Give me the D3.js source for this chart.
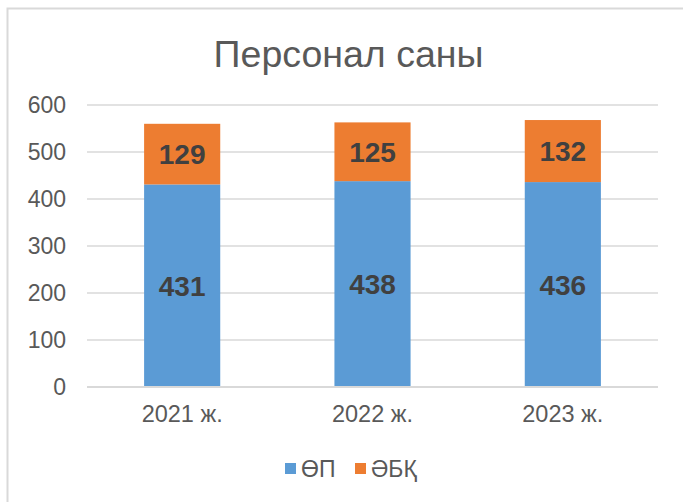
<!DOCTYPE html>
<html><head><meta charset="utf-8">
<script src="https://cdn.jsdelivr.net/npm/d3@7"></script>
<style>body{margin:0;background:#fff}svg{display:block}</style>
</head><body>
<svg id="c" width="683" height="502"></svg>
<script>
const title = "Персонал саны";
const categories = ["2021 ж.", "2022 ж.", "2023 ж."];
const seriesNames = ["ӨП", "ӘБҚ"];
const opValues = [431, 438, 436];
const abkValues = [129, 125, 132];
const yTicks = [0, 100, 200, 300, 400, 500, 600];
const colors = ["#5B9BD5", "#ED7D31"];

const svg = d3.select("#c");
const font = "'Liberation Sans', Arial, sans-serif";

// outer chart border
svg.append("rect").attr("x", 7.5).attr("y", 8.5).attr("width", 720).attr("height", 520)
  .attr("fill", "#fff").attr("stroke", "#D9D9D9").attr("stroke-width", 2);

const x = d3.scaleBand().domain(categories).range([87, 658]).paddingInner(0.6).paddingOuter(0.3);
const y = d3.scaleLinear().domain([0, 600]).range([387, 105]);

// title
svg.append("text").attr("x", 348.5).attr("y", 67).attr("text-anchor", "middle")
  .attr("font-family", font).attr("font-size", 37.5).attr("fill", "#595959").text(title);

// gridlines
svg.append("g").selectAll("line").data(yTicks).join("line")
  .attr("x1", 87).attr("x2", 658).attr("y1", d => y(d)).attr("y2", d => y(d))
  .attr("stroke", "#D9D9D9").attr("stroke-width", 1.5);

// y axis labels
const yAxis = svg.append("g").attr("transform", "translate(87,0)")
  .call(d3.axisLeft(y).tickValues(yTicks).tickSize(0).tickPadding(21));
yAxis.select(".domain").remove();
yAxis.selectAll("text").attr("font-family", font).attr("font-size", 23).attr("fill", "#595959");

// stacked data
const rows = categories.map((c, i) => ({cat: c, op: opValues[i], abk: abkValues[i]}));
const stack = d3.stack().keys(["op", "abk"])(rows);

const g = svg.append("g");
stack.forEach((layer, li) => {
  g.selectAll(null).data(layer).join("rect")
    .attr("x", d => x(d.data.cat)).attr("width", x.bandwidth())
    .attr("y", d => y(d[1])).attr("height", d => y(d[0]) - y(d[1]))
    .attr("fill", colors[li]);
});
// axis line
svg.append("line").attr("x1", 87).attr("x2", 658).attr("y1", y(0)).attr("y2", y(0))
  .attr("stroke", "#D9D9D9").attr("stroke-width", 2);

stack.forEach((layer) => {
  g.selectAll(null).data(layer).join("text")
    .attr("x", d => x(d.data.cat) + x.bandwidth() / 2)
    .attr("y", d => (y(d[0]) + y(d[1])) / 2)
    .attr("dy", "0.36em").attr("text-anchor", "middle")
    .attr("font-family", font).attr("font-size", 28).attr("font-weight", "bold")
    .attr("fill", "#404040").text(d => d[1] - d[0]);
});

// x axis labels
const xAxis = svg.append("g").attr("transform", `translate(0,${y(0)})`)
  .call(d3.axisBottom(x).tickSize(0).tickPadding(18));
xAxis.select(".domain").remove();
xAxis.selectAll("text").attr("font-family", font).attr("font-size", 23.5).attr("fill", "#595959");

// legend
const legendX = [285, 355];
const lg = svg.append("g");
seriesNames.forEach((n, i) => {
  lg.append("rect").attr("x", legendX[i]).attr("y", 463).attr("width", 11).attr("height", 11).attr("fill", colors[i]);
  lg.append("text").attr("x", legendX[i] + 16).attr("y", 476.5)
    .attr("font-family", font).attr("font-size", 23).attr("fill", "#595959").text(n);
});
</script>
</body></html>
